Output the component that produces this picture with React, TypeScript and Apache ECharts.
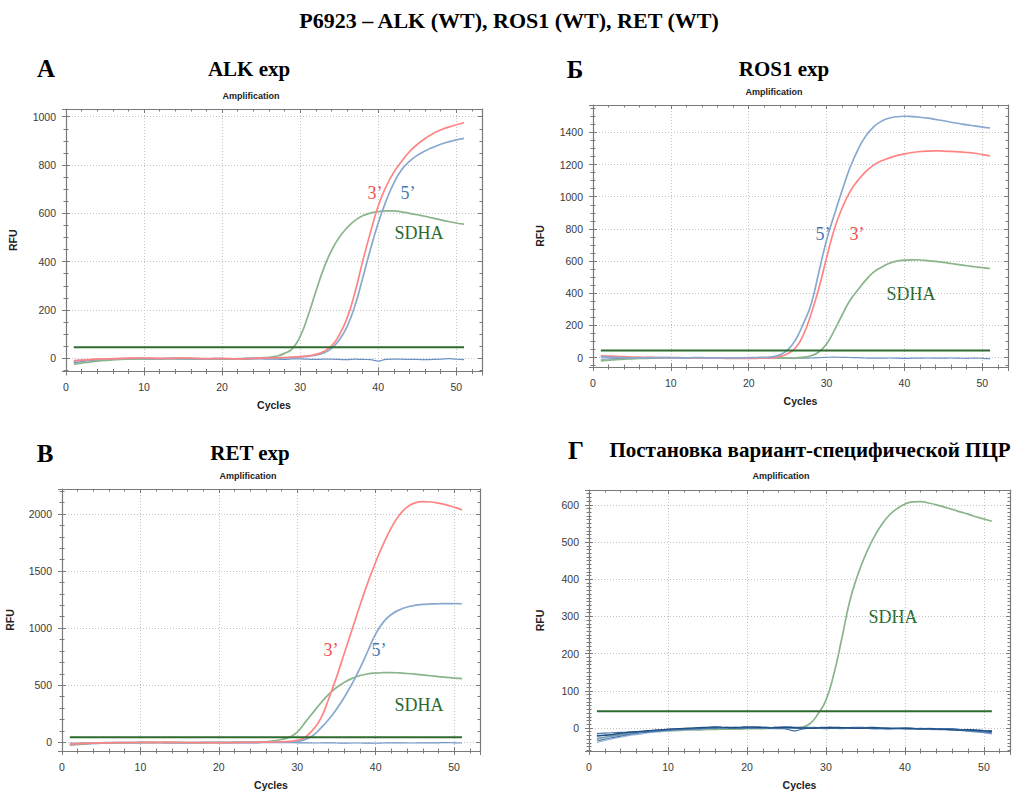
import React, { useEffect, useRef } from "react";
import * as echarts from "echarts";

// ---------- DATA (RFU per cycle, cycles 1..51) ----------
const cycles = [
  1, 2, 3, 4, 5, 6, 7, 8, 9, 10, 11, 12, 13, 14, 15, 16, 17, 18, 19, 20, 21, 22, 23, 24, 25, 26,
  27, 28, 29, 30, 31, 32, 33, 34, 35, 36, 37, 38, 39, 40, 41, 42, 43, 44, 45, 46, 47, 48, 49, 50, 51,
];
const thresholdCycles = [1, 51];
const thresholdRFU = [45, 45];

// Panel A — ALK exp
const alk3 = [-10, -8, -6, -4, -3, -2, -1, 0, 1, 1, 0, -1, -1, 0, 1, 0, -1, -2, -2, -1, -2, -3, -2, -1, 0, 1, 2, 3, 5, 7, 10, 16, 28, 50, 95, 165, 270, 400, 520, 630, 710, 770, 815, 855, 885, 910, 930, 945, 957, 967, 975];
const alk5 = [-12, -9, -7, -5, -4, -3, -2, -1, 0, 0, -1, -2, -1, 0, 0, -1, -2, -3, -2, -2, -3, -3, -2, -1, 0, 0, 1, 2, 3, 5, 8, 13, 22, 40, 75, 130, 215, 330, 450, 560, 650, 725, 780, 815, 840, 858, 873, 886, 896, 904, 910];
const alkSDHA = [-25, -20, -16, -12, -9, -7, -5, -4, -3, -3, -2, -3, -2, -2, -1, -2, -3, -3, -2, -2, -3, -2, -1, 0, 2, 4, 9, 20, 40, 90, 175, 275, 370, 445, 500, 540, 570, 590, 601, 607, 610, 610, 606, 600, 594, 588, 580, 573, 566, 560, 555];
const alkNeg = [-18, -14, -10, -8, -6, -5, -4, -3, -3, -4, -4, -3, -2, -3, -4, -4, -5, -5, -4, -4, -5, -5, -4, -3, -3, -4, -4, -5, -3, -3, -4, -5, -4, -4, -5, -6, -4, -5, -6, -12, -5, -4, -4, -5, -5, -6, -5, -4, -2, -4, -6];

// Panel Б — ROS1 exp
const ros5 = [5, 3, 1, 0, -1, -1, 0, 0, 1, 0, -1, -1, 0, 0, -1, -2, -2, -1, -1, 0, 1, 2, 5, 18, 48, 110, 210, 330, 530, 730, 890, 1040, 1180, 1290, 1375, 1432, 1468, 1488, 1497, 1500, 1498, 1494, 1488, 1480, 1472, 1463, 1455, 1447, 1440, 1433, 1427];
const ros3 = [12, 10, 8, 6, 4, 3, 2, 1, 1, 0, 0, -1, -2, -2, -3, -3, -4, -4, -5, -5, -4, -3, -1, 8, 25, 60, 140, 270, 430, 620, 800, 930, 1030, 1100, 1155, 1195, 1222, 1240, 1255, 1266, 1275, 1281, 1284, 1285, 1284, 1282, 1279, 1275, 1270, 1262, 1254];
const rosSDHA = [-20, -16, -12, -9, -7, -5, -4, -3, -2, -2, -1, -1, -2, -2, -1, -1, -2, -2, -1, -1, -2, -2, -1, -2, -3, -2, 3, 12, 35, 85, 170, 265, 355, 420, 480, 530, 560, 585, 600, 606, 608, 607, 603, 598, 592, 585, 578, 571, 565, 559, 554];
const rosNeg = [-10, -8, -6, -4, -3, -2, -1, -1, 0, 0, -1, -1, 0, 0, -1, -1, -2, -2, -1, -1, -2, -2, -1, -1, -2, -3, -3, -2, 0, 2, 3, 2, 1, 0, -2, -3, -3, -2, -3, -5, -3, -3, -2, -3, -3, -2, -3, -4, -3, -4, -6];

// Panel В — RET exp
const ret3 = [-15, -12, -9, -7, -5, -4, -3, -2, -2, -1, -1, 0, 0, -1, -1, -2, -2, -3, -3, -3, -2, -2, -1, 0, 1, 2, 3, 5, 8, 18, 45, 110, 210, 380, 570, 780, 990, 1200, 1400, 1580, 1740, 1880, 1990, 2060, 2097, 2108, 2105, 2095, 2080, 2060, 2036];
const ret5 = [-10, -8, -6, -5, -4, -3, -3, -2, -2, -1, -1, -1, -2, -2, -2, -3, -3, -3, -2, -2, -2, -1, -1, 0, 0, 1, 2, 3, 5, 8, 25, 60, 125, 200, 290, 395, 515, 650, 800, 950, 1055, 1120, 1160, 1185, 1200, 1208, 1212, 1214, 1215, 1215, 1214];
const retSDHA = [-20, -15, -11, -8, -6, -5, -4, -3, -3, -2, -2, -2, -1, -1, -2, -2, -2, -1, -1, 0, 0, 1, 1, 2, 3, 5, 12, 25, 45, 90, 175, 260, 345, 420, 480, 525, 560, 585, 600, 607, 610, 611, 608, 603, 597, 590, 583, 576, 569, 563, 558];
const retNeg = [-25, -20, -16, -12, -10, -8, -6, -5, -4, -4, -3, -3, -4, -4, -5, -5, -4, -4, -3, -3, -4, -4, -5, -5, -4, -3, -2, -2, -3, -4, -5, -6, -6, -5, -6, -7, -6, -6, -7, -8, -6, -5, -5, -6, -6, -5, -5, -4, -3, -5, -6];

// Panel Г — variant-specific PCR
const vsSDHA = [-30, -25, -21, -18, -15, -13, -11, -10, -9, -8, -7, -6, -5, -5, -4, -4, -3, -3, -3, -2, -2, -2, -1, -1, -1, 0, 2, 12, 38, 75, 145, 240, 340, 410, 465, 510, 545, 572, 590, 602, 608, 609, 605, 600, 594, 588, 581, 575, 568, 562, 556];
const vsNeg1 = [-22, -20, -18, -15, -12, -10, -8, -6, -5, -3, -2, -1, 0, 1, 2, 3, 2, 1, 2, 3, 2, 1, 0, 1, 2, 1, 0, -1, 0, 1, 2, 1, 0, -1, 0, 1, 0, -1, -2, -1, -2, -3, -2, -3, -4, -5, -6, -5, -7, -8, -10];
const vsNeg2 = [-35, -30, -26, -22, -18, -15, -12, -10, -8, -6, -5, -4, -3, -2, -1, 0, 1, 2, 1, 0, -1, 0, 1, 2, 3, 2, 1, 0, -1, -2, -1, 0, 1, 2, 1, 0, -1, -2, -1, 0, -1, -2, -3, -4, -3, -5, -6, -8, -9, -11, -13];
const vsNeg3 = [-15, -14, -13, -12, -11, -10, -9, -7, -6, -5, -4, -3, -2, -1, 0, 0, 1, 0, -1, 0, 1, 2, 1, 0, -3, -8, -3, 0, 1, 2, 1, 0, -1, 0, 1, 2, 0, -2, -1, 0, -1, -2, -1, -2, -3, -2, -4, -6, -5, -7, -9];
const vsNeg4 = [-28, -25, -22, -19, -16, -13, -11, -9, -7, -6, -5, -4, -3, -3, -2, -1, -1, 0, 0, 1, 1, 0, -1, -2, -1, 0, 1, 2, 1, 0, -1, -2, -1, 0, -1, -2, -3, -2, -1, -2, -3, -4, -3, -4, -5, -6, -7, -9, -11, -13, -16];
const vsNeg5 = [-20, -19, -17, -14, -12, -10, -9, -7, -6, -4, -3, -2, -1, 0, 1, 2, 1, 0, 1, 2, 3, 2, 1, 2, 1, 0, -1, 0, 1, 0, -1, 0, 1, 0, -1, -2, -1, 0, -1, -3, -2, -1, -2, -3, -2, -3, -5, -4, -6, -8, -7];
const vsNeg6 = [-40, -34, -29, -25, -21, -18, -15, -12, -10, -8, -6, -5, -4, -3, -2, -1, 0, 0, 1, 0, -1, -1, 0, 1, 0, -1, -2, -1, 0, 1, 0, -1, 0, 1, 0, -1, -2, -3, -2, -1, -2, -3, -4, -5, -4, -5, -6, -7, -9, -12, -14];

// ---------- STYLE ----------
const SANS = "'Liberation Sans', Arial, Helvetica, sans-serif";
const SERIF = "'Liberation Serif', 'Times New Roman', serif";
const AXIS_COLOR = "#7a7a7a";
const GRID_COLOR = "#c4c4c4";
const RED = "#ff8585";
const BLUE = "#88a8d0";
const GREEN = "#8ab48a";
const NEG_BLUE = "#6d93c4";
const THRESH = "#2f6b2f";
const X_MAX = 53.3;

type Curve = { data: number[]; color: string; width?: number };
type Panel = {
  left: number; top: number; width: number; height: number;
  yMin: number; yMax: number; ySplit: number; yStep: number; yMinor: number;
  rfuGap: number;
  curves: Curve[];
};

const panels: Panel[] = [
  {
    left: 66, top: 109, width: 416, height: 262.5, yMin: -55, yMax: 1032, ySplit: 5, yStep: 200, yMinor: 4, rfuGap: 48,
    curves: [
      { data: alkNeg, color: NEG_BLUE, width: 1.2 },
      { data: alkSDHA, color: GREEN },
      { data: alk5, color: BLUE },
      { data: alk3, color: RED },
    ],
  },
  {
    left: 593, top: 105, width: 415, height: 262, yMin: -58, yMax: 1570, ySplit: 8, yStep: 200, yMinor: 4, rfuGap: 48,
    curves: [
      { data: rosNeg, color: NEG_BLUE, width: 1.2 },
      { data: rosSDHA, color: GREEN },
      { data: ros3, color: RED },
      { data: ros5, color: BLUE },
    ],
  },
  {
    left: 62, top: 489, width: 418, height: 263, yMin: -76, yMax: 2219, ySplit: 5, yStep: 500, yMinor: 5, rfuGap: 47,
    curves: [
      { data: retNeg, color: NEG_BLUE, width: 1.2 },
      { data: retSDHA, color: GREEN },
      { data: ret5, color: BLUE },
      { data: ret3, color: RED },
    ],
  },
  {
    left: 589, top: 490, width: 421, height: 264, yMin: -62, yMax: 640, ySplit: 7, yStep: 100, yMinor: 10, rfuGap: 44,
    curves: [
      { data: vsSDHA, color: GREEN },
      { data: vsNeg6, color: "#9ab8dc", width: 1.1 },
      { data: vsNeg4, color: "#6f97c6", width: 1.1 },
      { data: vsNeg2, color: "#4a78ad", width: 1.1 },
      { data: vsNeg5, color: "#2f5f94", width: 1.1 },
      { data: vsNeg3, color: "#3d6ea3", width: 1.1 },
      { data: vsNeg1, color: "#1f4c80", width: 1.1 },
    ],
  },
];

function buildOption() {
  const grid: any[] = [];
  const xAxis: any[] = [];
  const yAxis: any[] = [];
  const series: any[] = [];

  panels.forEach((p, i) => {
    grid.push({ left: p.left, top: p.top, width: p.width, height: p.height, show: false, containLabel: false });
    const tickLine = { color: AXIS_COLOR, width: 1 };
    const xBase = { gridIndex: i, type: "value", min: 0, max: X_MAX, interval: 10 };
    const xMinor = { show: true, splitNumber: 5, length: 2.5, lineStyle: tickLine };
    xAxis.push({
      ...xBase,
      position: "bottom",
      axisLine: { show: true, onZero: false, lineStyle: { color: AXIS_COLOR, width: 1.2 } },
      axisTick: { show: true, inside: false, length: 4, lineStyle: tickLine },
      minorTick: xMinor,
      axisLabel: {
        show: true, color: "#3a3a3a", fontSize: 10.5, fontFamily: SANS, margin: 10,
        formatter: (v: number) => (Math.abs(v % 10) < 1e-6 ? String(v) : ""),
      },
      splitLine: { show: true, lineStyle: { color: GRID_COLOR, type: [1, 2], width: 1 } },
      name: "Cycles",
      nameLocation: "middle",
      nameGap: 28,
      nameTextStyle: { fontFamily: SANS, fontSize: 10.5, fontWeight: "bold", color: "#222" },
    });
    xAxis.push({
      ...xBase,
      position: "bottom",
      axisLine: { show: false, onZero: false },
      axisTick: { show: true, inside: true, length: 4, lineStyle: tickLine },
      minorTick: xMinor,
      axisLabel: { show: false },
      splitLine: { show: false },
    });
    xAxis.push({
      ...xBase,
      position: "top",
      axisLine: { show: true, onZero: false, lineStyle: { color: AXIS_COLOR, width: 1.2 } },
      axisTick: { show: true, inside: true, length: 4, lineStyle: tickLine },
      minorTick: xMinor,
      axisLabel: { show: false },
      splitLine: { show: false },
    });

    const yBase = { gridIndex: i, type: "value", min: p.yMin, max: p.yMax, splitNumber: p.ySplit };
    const yMinor = { show: true, splitNumber: p.yMinor, length: 2.5, lineStyle: tickLine };
    yAxis.push({
      ...yBase,
      position: "left",
      axisLine: { show: true, onZero: false, lineStyle: { color: AXIS_COLOR, width: 1.2 } },
      axisTick: { show: true, inside: false, length: 4, lineStyle: tickLine },
      minorTick: yMinor,
      axisLabel: {
        show: true, color: "#3a3a3a", fontSize: 10.5, fontFamily: SANS, margin: 10,
        formatter: (v: number) => (Math.abs(v % p.yStep) < 1e-6 ? String(v) : ""),
      },
      splitLine: { show: true, lineStyle: { color: GRID_COLOR, type: [1, 2], width: 1 } },
      name: "RFU",
      nameLocation: "middle",
      nameGap: p.rfuGap,
      nameTextStyle: { fontFamily: SANS, fontSize: 10.5, fontWeight: "bold", color: "#222" },
    });
    yAxis.push({
      ...yBase,
      position: "left",
      axisLine: { show: false, onZero: false },
      axisTick: { show: true, inside: true, length: 4, lineStyle: tickLine },
      minorTick: yMinor,
      axisLabel: { show: false },
      splitLine: { show: false },
    });
    yAxis.push({
      ...yBase,
      position: "right",
      axisLine: { show: true, onZero: false, lineStyle: { color: AXIS_COLOR, width: 1.2 } },
      axisTick: { show: true, inside: true, length: 4, lineStyle: tickLine },
      minorTick: yMinor,
      axisLabel: { show: false },
      splitLine: { show: false },
    });

    p.curves.forEach((c) => {
      series.push({
        type: "line",
        xAxisIndex: i * 3,
        yAxisIndex: i * 3,
        data: cycles.map((cy, k) => [cy, c.data[k]]),
        showSymbol: false,
        symbol: "none",
        smooth: 0.5,
        lineStyle: { color: c.color, width: c.width ?? 1.7 },
        silent: true,
        z: 3,
      });
    });
    series.push({
      type: "line",
      xAxisIndex: i * 3,
      yAxisIndex: i * 3,
      data: thresholdCycles.map((cy, k) => [cy, thresholdRFU[k]]),
      showSymbol: false,
      symbol: "none",
      lineStyle: { color: THRESH, width: 2 },
      silent: true,
      z: 5,
    });
  });

  const t = (text: string, x: number, y: number, style: any) => ({
    type: "text",
    x,
    y,
    style: { text, textAlign: "center", textVerticalAlign: "middle", ...style },
  });
  const heading = { fontFamily: SERIF, fontWeight: "bold", fontSize: 21, fill: "#000" };
  const letter = { fontFamily: SERIF, fontWeight: "bold", fontSize: 25, fill: "#000" };
  const ampl = { fontFamily: SANS, fontWeight: "bold", fontSize: 9, fill: "#222" };
  const lab = { fontFamily: SERIF, fontSize: 18 };
  const red = { ...lab, fill: "#f04e4e" };
  const blue = { ...lab, fill: "#4a78b2" };
  const green = { ...lab, fill: "#2b6b30" };

  const graphic = [
    t("P6923 – ALK (WT), ROS1 (WT), RET (WT)", 509, 20, { fontFamily: SERIF, fontWeight: "bold", fontSize: 22, fill: "#000" }),
    t("А", 46, 68, letter),
    t("ALK exp", 249, 69, heading),
    t("Amplification", 251, 96, ampl),
    t("Б", 575, 69, letter),
    t("ROS1 exp", 784, 69, heading),
    t("Amplification", 774, 92, ampl),
    t("В", 45, 453, letter),
    t("RET exp", 250, 453, heading),
    t("Amplification", 248, 476, ampl),
    t("Г", 576, 450, letter),
    t("Постановка вариант-специфической ПЦР", 810, 450, heading),
    t("Amplification", 781, 476, ampl),
    // curve annotations
    t("3’", 375, 193, red),
    t("5’", 408, 193, blue),
    t("SDHA", 419, 233, green),
    t("5’", 823, 234, blue),
    t("3’", 857, 234, red),
    t("SDHA", 911, 294, green),
    t("3’", 331, 650, red),
    t("5’", 379, 650, blue),
    t("SDHA", 419, 705, green),
    t("SDHA", 893, 617, green),
  ];

  return {
    animation: false,
    backgroundColor: "#ffffff",
    grid,
    xAxis,
    yAxis,
    series,
    graphic,
  };
}

export default function App() {
  const ref = useRef<HTMLDivElement>(null);
  useEffect(() => {
    if (!ref.current) return;
    const chart = echarts.init(ref.current, undefined, { renderer: "svg" });
    chart.setOption(buildOption() as any);
    return () => chart.dispose();
  }, []);
  return (
    <div
      ref={ref}
      style={{ position: "absolute", left: 0, top: 0, width: 1016, height: 791, background: "#fff" }}
    />
  );
}
